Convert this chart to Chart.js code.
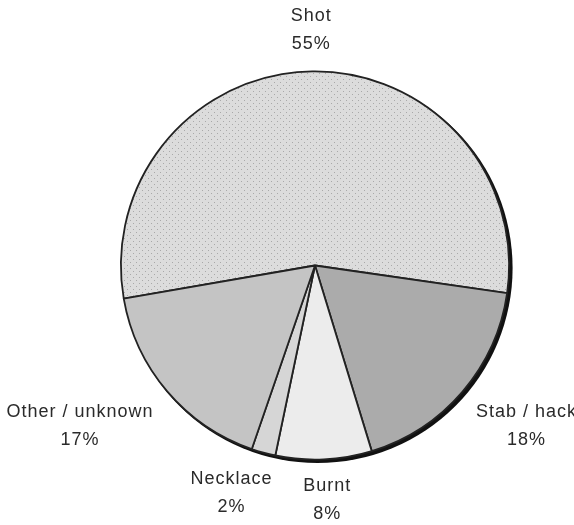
<!DOCTYPE html>
<html>
<head>
<meta charset="utf-8">
<script src="https://cdn.jsdelivr.net/npm/chart.js@4"></script>
<style>
  html, body { margin: 0; padding: 0; background: #fff; }
</style>
</head>
<body>
<canvas id="pie" width="574" height="525"></canvas>
<script>
// data
const categories = ["Shot", "Stab / hack", "Burnt", "Necklace", "Other / unknown"];
const shares = [55, 18, 8, 2, 17];
const pctLabels = ["55%", "18%", "8%", "2%", "17%"];

// dotted fill for the big slice
function dots() {
  const c = document.createElement('canvas');
  c.width = 6; c.height = 6;
  const g = c.getContext('2d');
  g.fillStyle = '#dcdcdc';
  g.fillRect(0, 0, 6, 6);
  g.fillStyle = '#a9a9a9';
  g.fillRect(1, 1, 1, 1);
  g.fillRect(4, 4, 1, 1);
  return g.createPattern(c, 'repeat');
}

// dark shadow under the lower right rim
const rimShadow = {
  id: 'rimShadow',
  beforeDatasetsDraw(chart) {
    const arc = chart.getDatasetMeta(0).data[0];
    if (!arc) return;
    const ctx = chart.ctx;
    ctx.save();
    ctx.beginPath();
    ctx.arc(arc.x + 2.5, arc.y + 2.5, arc.outerRadius + 1, 0, Math.PI * 2);
    ctx.fillStyle = '#111';
    ctx.fill();
    ctx.restore();
  }
};

const clamp = v => Math.max(-1, Math.min(1, v));

// name + percent outside each slice
const outerLabels = {
  id: 'outerLabels',
  afterDatasetsDraw(chart) {
    const ctx = chart.ctx;
    const meta = chart.getDatasetMeta(0);
    ctx.save();
    ctx.font = '18px "Liberation Sans", Arial, sans-serif';
    ctx.letterSpacing = '1px';
    ctx.fillStyle = '#2a2a2a';
    ctx.textAlign = 'center';
    ctx.textBaseline = 'middle';
    const lineH = 28;
    meta.data.forEach((arc, i) => {
      const mid = (arc.startAngle + arc.endAngle) / 2;
      const cos = Math.cos(mid), sin = Math.sin(mid);
      const lines = [categories[i], pctLabels[i]];
      const halfW = Math.max(...lines.map(t => ctx.measureText(t).width)) / 2;
      const halfH = lineH / 2 + 9;
      const r = arc.outerRadius + 18;
      const cx = arc.x + cos * r + halfW * clamp(cos * 2.5);
      const cy = arc.y + sin * r + halfH * clamp(sin * 2.5);
      ctx.fillText(lines[0], cx, cy - lineH / 2);
      ctx.fillText(lines[1], cx, cy + lineH / 2);
    });
    ctx.restore();
  }
};

new Chart(document.getElementById('pie'), {
  type: 'pie',
  data: {
    labels: categories,
    datasets: [{
      data: shares,
      backgroundColor: [dots(), '#ababab', '#ececec', '#d6d6d6', '#c4c4c4'],
      borderColor: '#222',
      borderWidth: 1.8
    }]
  },
  options: {
    responsive: false,
    animation: false,
    rotation: 260.2,
    layout: {
      padding: { left: 120, right: 64, top: 70, bottom: 64 }
    },
    plugins: {
      legend: { display: false },
      tooltip: { enabled: false }
    }
  },
  plugins: [rimShadow, outerLabels]
});
</script>
</body>
</html>
